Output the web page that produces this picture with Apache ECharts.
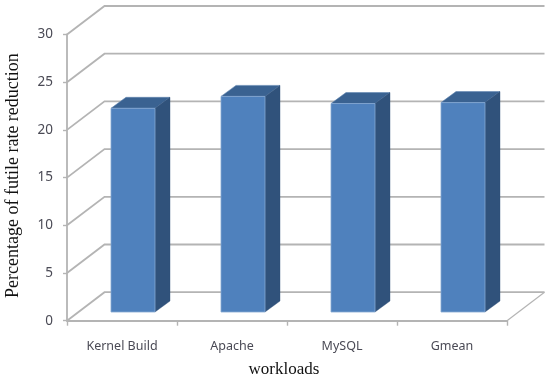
<!doctype html>
<html>
<head>
    <meta charset="utf-8">
    <title>futile rate reduction</title>
    <style>
        html,body{margin:0;padding:0;background:#fff;}
        #chart{width:550px;height:380px;}
    </style>
</head>
<body>
    <div id="chart"></div>
    <script src="https://cdn.jsdelivr.net/npm/echarts@6/dist/echarts.min.js"></script>
    <script>
        // data
        var categories = ['Kernel Build', 'Apache', 'MySQL', 'Gmean'];
        var futileReduction = [21.35, 22.6, 21.85, 21.95];
        var yTicks = [0, 5, 10, 15, 20, 25, 30];

        // fake 3d offsets, in pixels
        var wallDx = 37.5, wallDy = 28.5;    // front plane -> back wall
        var barDx = 11, barDy = 8.7;         // front plane -> bar front face
        var depthDx = 15, depthDy = 11;      // bar front face -> bar back face
        var barShare = 0.4;

        var gridColor = '#b4b4b4';
        var textColor = '#4a4a55';

        function renderWall(params, api) {
            var cs = params.coordSys;
            var v = api.value(0);
            var y = api.coord([0, v])[1];
            var left = cs.x, right = cs.x + cs.width;
            var points = [[left, y], [left + wallDx, y - wallDy], [right + wallDx, y - wallDy]];
            var children = [{
                type: 'polyline',
                shape: {points: points},
                style: {fill: null, stroke: gridColor, lineWidth: 1.8}
            }];
            if (v === 0) {
                children.push({
                    type: 'line',
                    shape: {x1: right, y1: y, x2: right + wallDx, y2: y - wallDy},
                    style: {stroke: gridColor, lineWidth: 1.2}
                });
            }
            return {type: 'group', children: children};
        }

        function renderBar(params, api) {
            var top = api.coord([api.value(0), api.value(1)]);
            var base = api.coord([api.value(0), 0]);
            var w = api.size([1, 0])[0] * barShare;
            var x0 = top[0] - w / 2 + barDx, x1 = x0 + w;
            var y0 = top[1] - barDy, y1 = base[1] - barDy;
            return {
                type: 'group',
                children: [{
                    type: 'polygon',
                    shape: {points: [[x0, y0], [x0 + depthDx, y0 - depthDy], [x1 + depthDx, y0 - depthDy], [x1, y0]]},
                    style: {fill: '#3a6291', stroke: '#5f84b0', lineWidth: 0.6}
                }, {
                    type: 'polygon',
                    shape: {points: [[x1, y0], [x1 + depthDx, y0 - depthDy], [x1 + depthDx, y1 - depthDy], [x1, y1]]},
                    style: {fill: '#30527b', stroke: '#30527b', lineWidth: 0.4}
                }, {
                    type: 'rect',
                    shape: {x: x0, y: y0, width: w, height: y1 - y0},
                    style: {fill: '#4f81bd', stroke: '#86a8d2', lineWidth: 0.8}
                }]
            };
        }

        var chart = echarts.init(document.getElementById('chart'));
        chart.setOption({
            animation: false,
            backgroundColor: '#fff',
            grid: {left: 67, right: 43, top: 34.5, bottom: 59.3, outerBoundsMode: 'none'},
            xAxis: {
                type: 'category',
                data: categories,
                name: 'workloads',
                nameLocation: 'middle',
                nameGap: 40,
                nameTextStyle: {fontFamily: 'Liberation Serif', fontSize: 17, color: '#111', padding: [0, 6, 0, 0]},
                axisLine: {lineStyle: {color: gridColor, width: 1.8}},
                axisTick: {show: true, length: 5, lineStyle: {color: gridColor, width: 1.4}},
                axisLabel: {margin: 19, interval: 0, fontFamily: 'Noto Sans', fontSize: 12.5, color: textColor}
            },
            yAxis: {
                type: 'value',
                min: 0,
                max: 30,
                interval: 5,
                name: 'Percentage of futile rate reduction',
                nameLocation: 'middle',
                nameGap: 45,
                nameTextStyle: {fontFamily: 'Liberation Serif', fontSize: 18, color: '#111', padding: [0, 0, 0, 4]},
                splitLine: {show: false},
                axisLine: {show: true, lineStyle: {color: gridColor, width: 1.8}},
                axisTick: {show: true, length: 4, lineStyle: {color: gridColor, width: 1.4}},
                axisLabel: {margin: 14, fontFamily: 'Noto Sans', fontSize: 13.5, color: textColor}
            },
            series: [{
                type: 'custom',
                renderItem: renderWall,
                clip: false,
                silent: true,
                z: 1,
                data: yTicks.map(function (t) { return [t]; }),
                encode: {y: 0}
            }, {
                type: 'custom',
                renderItem: renderBar,
                clip: false,
                z: 3,
                data: categories.map(function (c, i) { return [i, futileReduction[i]]; }),
                encode: {x: 0, y: 1}
            }]
        });
    </script>
</body>
</html>
